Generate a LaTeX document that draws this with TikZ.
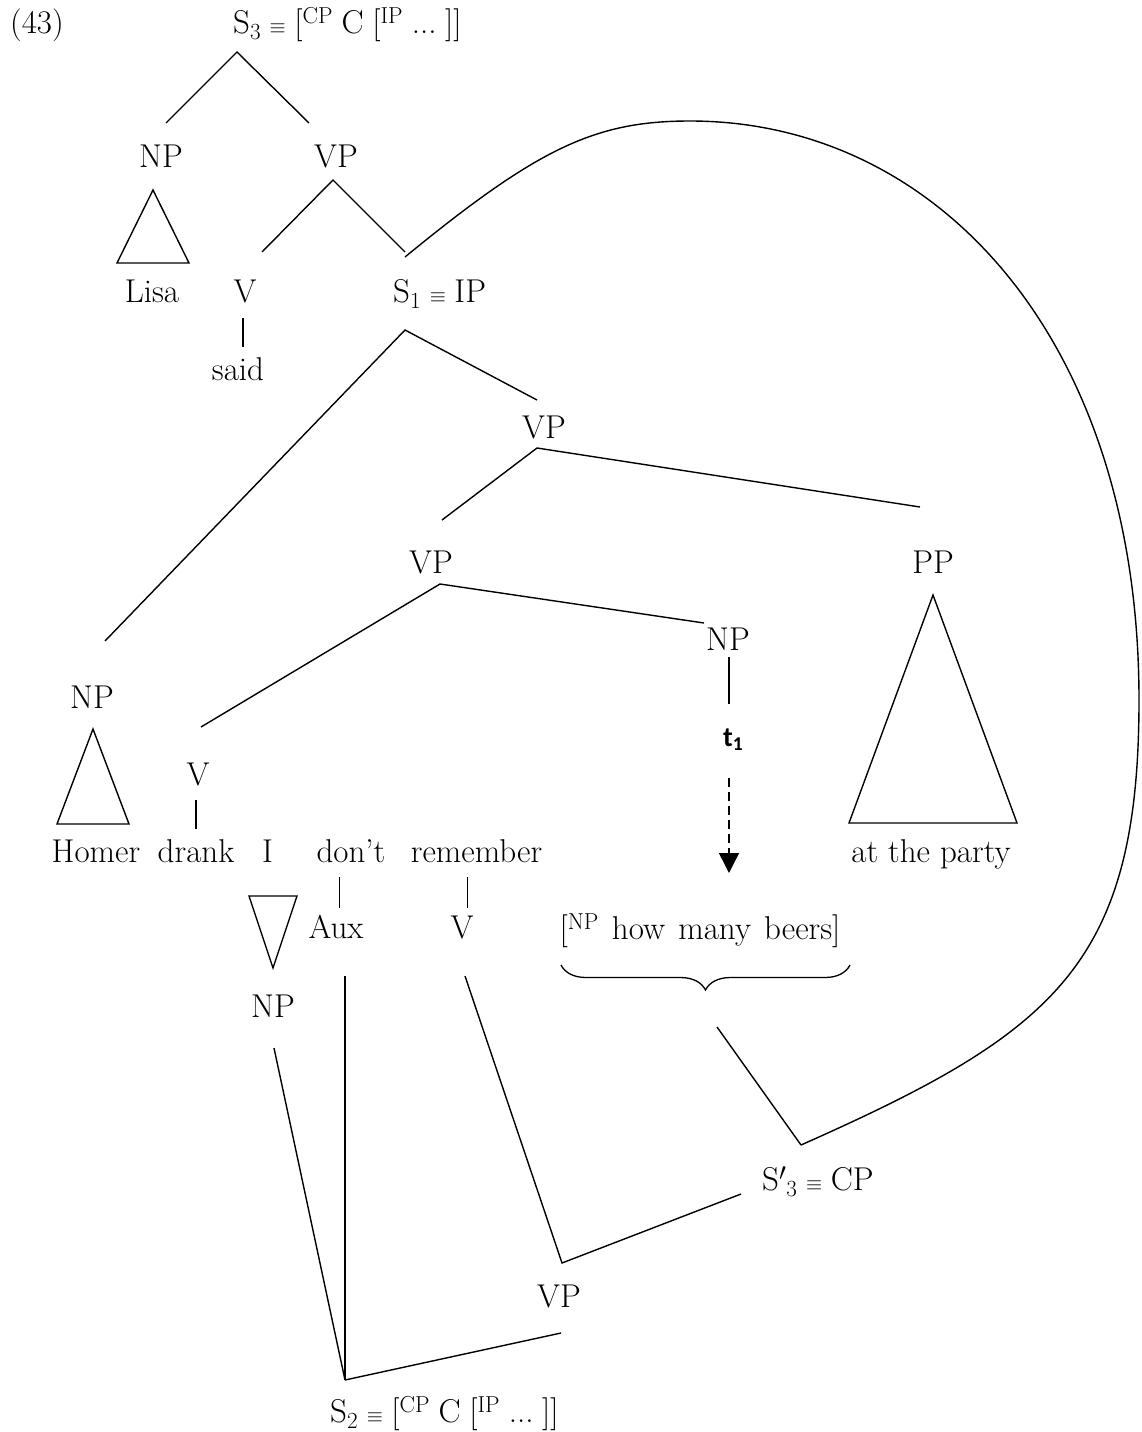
\documentclass[tikz,border=0pt]{standalone}
\usepackage{fontspec}
\newfontfamily\carl{Carlito}
\usetikzlibrary{arrows.meta,decorations.pathreplacing}
\newcommand\gapx{\hspace{0.26em}}
\newcommand\eqvsym{{\fontsize{20}{20}\selectfont$\equiv$}}
\begin{document}
\begin{tikzpicture}[x=1pt,y=-1pt,
  lbl/.style={inner sep=0pt, anchor=base, font=\fontsize{33}{38}\selectfont},
  lblw/.style={lbl, anchor=base west},
  branch/.style={line width=1.4pt},
  tri/.style={line width=1.4pt, line join=miter},
  bar/.style={line width=1.4pt},
  bracestyle/.style={line width=1.3pt, decorate, decoration={brace, amplitude=25pt, mirror}},
  movearrow/.style={line width=1.4pt, dash pattern=on 9pt off 5pt, -{Triangle[width=20pt,length=20pt]}}
]
\useasboundingbox (0,0) rectangle (1141,1432);

% ---------- labels ----------
\node[lbl] (ex) at (37,33) {(43)};
\node[lblw] (s3) at (233,33) {S\textsubscript{3}\gapx\eqvsym\gapx[\textsuperscript{CP}\gapx C\gapx[\textsuperscript{IP}\gapx...\gapx]]};
\node[lbl] (np1) at (161,167) {NP};
\node[lbl] (vp1) at (336,167) {VP};
\node[lbl] (lisa) at (152,302) {Lisa};
\node[lbl] (v1) at (245,302) {V};
\node[lblw] (s1) at (393,302) {S\textsubscript{1}\gapx\eqvsym\gapx IP};
\node[lbl] (said) at (238,380) {said};
\node[lbl] (vp2) at (544,438) {VP};
\node[lbl] (vp3) at (431,573) {VP};
\node[lbl] (pp) at (933,573) {PP};
\node[lbl] (npt) at (728,650) {NP};
\node[lbl] (nph) at (92,708) {NP};
\node[inner sep=0pt, anchor=base west, font=\fontsize{28}{32}\selectfont\carl\bfseries] (t1) at (723,746) {t\textsubscript{1}};
\node[lbl] (v2) at (198,785) {V};
\node[lbl] (homer) at (96,862) {Homer};
\node[lbl] (drank) at (196,862) {drank};
\node[lbl] (wi) at (267.5,862) {I};
\node[lbl] (dont) at (351,862) {don’t};
\node[lbl] (remember) at (476.5,862) {remember};
\node[lbl] (party) at (931,862) {at the party};
\node[lbl] (aux) at (336,938) {Aux};
\node[lbl] (v3) at (462,938) {V};
\node[lbl] (beers) at (700,939) {[\textsuperscript{NP}\hspace{0.4em}how\hspace{0.4em}many\hspace{0.4em}beers]};
\node[lbl] (npl) at (273,1017) {NP};
\node[lblw] (s3p) at (762,1190) {S$'$\textsubscript{3}\gapx\eqvsym\gapx CP};
\node[lbl] (vp4) at (559,1307) {VP};
\node[lblw] (s2) at (330,1422) {S\textsubscript{2}\gapx\eqvsym\gapx[\textsuperscript{CP}\gapx C\gapx[\textsuperscript{IP}\gapx...\gapx]]};

% ---------- coordinates ----------
\coordinate (s3a) at (237,52);   \coordinate (s3l) at (166,123);  \coordinate (s3r) at (309,123);
\coordinate (np1a) at (153,190); \coordinate (np1l) at (117,263); \coordinate (np1r) at (189,263);
\coordinate (vp1a) at (333,180); \coordinate (vp1l) at (262,252); \coordinate (vp1r) at (405,252);
\coordinate (v1t) at (243,318);  \coordinate (v1b) at (243,347);
\coordinate (s1a) at (405,330);  \coordinate (s1l) at (105,641);  \coordinate (s1r) at (537,400);
\coordinate (vp2a) at (537,448); \coordinate (vp2l) at (442,520); \coordinate (vp2r) at (920,507);
\coordinate (vp3a) at (440,584); \coordinate (vp3l) at (201,727); \coordinate (vp3r) at (704,623);
\coordinate (nptt) at (729,657); \coordinate (nptb) at (729,704);
\coordinate (arrs) at (729,778); \coordinate (arre) at (729,873);
\coordinate (ppa) at (933,595);  \coordinate (ppl) at (849,823);  \coordinate (ppr) at (1017,823);
\coordinate (nha) at (93,729);   \coordinate (nhl) at (57,824);   \coordinate (nhr) at (129,824);
\coordinate (v2t) at (196,800);  \coordinate (v2b) at (196,829);
\coordinate (dtt) at (339.5,877); \coordinate (dtb) at (339.5,908);
\coordinate (rmt) at (467.7,877); \coordinate (rmb) at (467.7,908);
\coordinate (ita) at (249,896);  \coordinate (itb) at (297,896);  \coordinate (itc) at (273,968);
\coordinate (brl) at (561,965);  \coordinate (brr) at (850,965);
\coordinate (nplt) at (274,1048);
\coordinate (auxt) at (345,976);
\coordinate (v3t) at (465,976);
\coordinate (vp4a) at (562,1263);
\coordinate (s3pl) at (741,1194);
\coordinate (s2a) at (345,1380);
\coordinate (vp4b) at (561,1333);
\coordinate (brt) at (717,1027);
\coordinate (s3pa) at (801,1145);
\coordinate (cvs) at (405,257);
\coordinate (ctop) at (690,121);
\coordinate (cright) at (1139,700);

% ---------- branches ----------
\draw[branch] (s3l) -- (s3a) -- (s3r);
\draw[tri] (np1a) -- (np1l) -- (np1r) -- cycle;
\draw[branch] (vp1l) -- (vp1a) -- (vp1r);
\draw[bar] (v1t) -- (v1b);
\draw[branch] (s1l) -- (s1a) -- (s1r);
\draw[branch] (vp2l) -- (vp2a) -- (vp2r);
\draw[branch] (vp3l) -- (vp3a) -- (vp3r);
\draw[bar] (nptt) -- (nptb);
\draw[movearrow] (arrs) -- (arre);
\draw[tri] (ppa) -- (ppl) -- (ppr) -- cycle;
\draw[tri] (nha) -- (nhl) -- (nhr) -- cycle;
\draw[bar] (v2t) -- (v2b);
\draw[bar] (dtt) -- (dtb);
\draw[bar] (rmt) -- (rmb);
\draw[tri] (ita) -- (itb) -- (itc) -- cycle;
\draw[bracestyle] (brl) -- (brr);
\draw[branch] (nplt) -- (s2a);
\draw[branch] (auxt) -- (s2a);
\draw[branch] (s2a) -- (vp4b);
\draw[branch] (v3t) -- (vp4a) -- (s3pl);
\draw[branch] (brt) -- (s3pa);
\draw[branch] (cvs) .. controls (538,148) and (595,121) .. (ctop)
  .. controls (938,121) and (1139,340) .. (cright)
  .. controls (1139,965) and (1054.5,1032.5) .. (s3pa);
\end{tikzpicture}
\end{document}
